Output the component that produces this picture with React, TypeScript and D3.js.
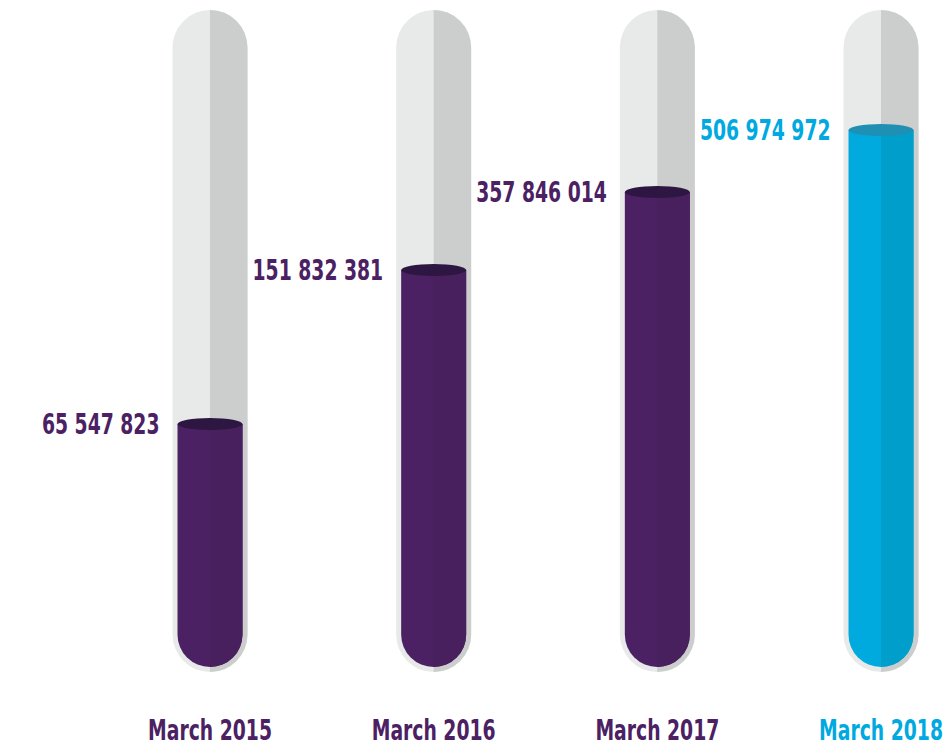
import React, { useRef, useEffect } from 'react';
import * as d3 from 'd3';

// chart values
const periods = ['March 2015', 'March 2016', 'March 2017', 'March 2018'];
const totals = [65547823, 151832381, 357846014, 506974972];
const valueLabels = ['65 547 823', '151 832 381', '357 846 014', '506 974 972'];
const highlight = [false, false, false, true];

export default function App() {
  const svgRef = useRef<SVGSVGElement>(null);

  useEffect(() => {
    const width = 947;
    const height = 747;
    const tubeTop = 10;
    const tubeBottom = 672;
    const tubeW = 75;
    const inset = 5;
    const squeeze = 0.72; // condensed look
    const font = "'DejaVu Sans Condensed', 'DejaVu Sans', sans-serif";

    const svg = d3.select(svgRef.current)
      .attr('width', width)
      .attr('height', height);
    svg.selectAll('*').remove();

    const x = d3.scalePoint<string>()
      .domain(periods)
      .range([210, 881]);

    // infographic fill level (not linear in the original)
    const level = d3.scaleLinear()
      .domain([0, totals[0], totals[1], totals[2], totals[3]])
      .range([tubeBottom - inset, 424, 270, 192, 130]);

    const g = svg.selectAll('g.tube')
      .data(periods)
      .join('g')
      .attr('class', 'tube')
      .attr('transform', d => `translate(${x(d)},0)`);

    const r = tubeW / 2;
    // full tube shape, or its right half (half = true)
    const tubePath = (rr: number, top: number, bottom: number, flatTop: boolean, half: boolean) => {
      const p = d3.path();
      const left = half ? 0 : -rr;
      if (flatTop) {
        p.moveTo(left, top);
        p.lineTo(rr, top);
      } else if (half) {
        p.moveTo(0, top);
        p.arc(0, top + rr, rr, -Math.PI / 2, 0);
      } else {
        p.moveTo(-rr, top + rr);
        p.arc(0, top + rr, rr, Math.PI, 2 * Math.PI);
      }
      p.lineTo(rr, bottom - rr);
      p.arc(0, bottom - rr, rr, 0, half ? Math.PI / 2 : Math.PI);
      p.closePath();
      return p.toString();
    };

    g.append('path')
      .attr('d', tubePath(r, tubeTop, tubeBottom, false, false))
      .attr('fill', '#e8eaea');
    g.append('path')
      .attr('d', tubePath(r, tubeTop, tubeBottom, false, true))
      .attr('fill', '#cccdcd');

    const fr = r - inset;
    g.each(function (d, i) {
      const sel = d3.select(this);
      const top = level(totals[i]);
      const hi = highlight[i];
      const color = hi ? '#00a9e0' : '#4b2163';
      sel.append('path')
        .attr('d', tubePath(fr, top, tubeBottom - inset, true, false))
        .attr('fill', hi ? '#00aadf' : '#4b2163');
      sel.append('path')
        .attr('d', tubePath(fr, top, tubeBottom - inset, true, true))
        .attr('fill', hi ? '#009fcb' : '#47205d');
      sel.append('ellipse')
        .attr('cx', 0)
        .attr('cy', top)
        .attr('rx', fr)
        .attr('ry', 6)
        .attr('fill', hi ? '#1f8fb3' : '#2e1642');
      sel.append('text')
        .attr('transform', `translate(${-r - 13},${top}) scale(${squeeze},1)`)
        .attr('dy', '0.36em')
        .attr('text-anchor', 'end')
        .attr('font-family', font)
        .attr('font-weight', 'bold')
        .attr('font-size', 29)
        .attr('fill', color)
        .text(valueLabels[i]);
      sel.append('text')
        .attr('transform', `translate(0,740) scale(${squeeze},1)`)
        .attr('text-anchor', 'middle')
        .attr('font-family', font)
        .attr('font-weight', 'bold')
        .attr('font-size', 29)
        .attr('fill', color)
        .text(d);
    });
  }, []);

  return (
    <div>
      <svg ref={svgRef} style={{ position: 'absolute', left: 0, top: 0 }}></svg>
    </div>
  );
}
